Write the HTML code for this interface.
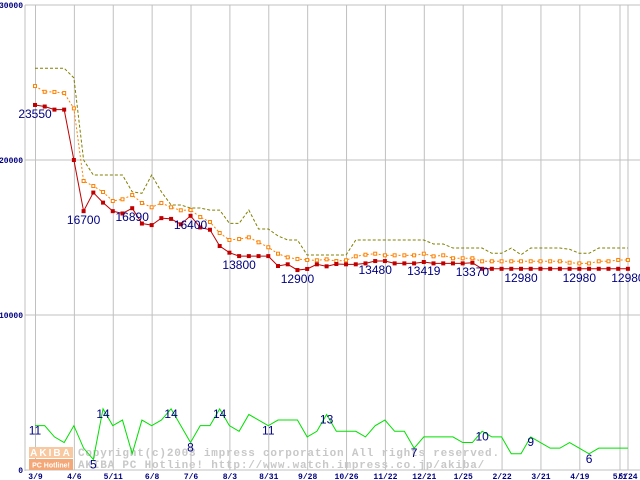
<!DOCTYPE html>
<html><head><meta charset="utf-8"><style>
html,body{margin:0;padding:0;background:#fff;}
svg{display:block;font-family:"Liberation Sans",sans-serif;}
</style></head><body>
<svg id="chart" width="640" height="480" viewBox="0 0 640 480">
<g id="grid"></g>
<g id="wm">
 <rect x="29" y="447" width="44" height="11" fill="#f8c8a0"/>
 <text x="51" y="456" font-size="10" font-weight="bold" fill="#fff" text-anchor="middle" letter-spacing="2">AKIBA</text>
 <rect x="29" y="459" width="44" height="11" fill="#f4a878"/>
 <text x="51" y="467.5" font-size="7" font-weight="bold" fill="#fff" text-anchor="middle">PC Hotline!</text>
 <text x="78" y="456" font-size="11" font-family="Liberation Mono, monospace" font-weight="bold" fill="#c8c8c8" letter-spacing="0.8">Copyright(c)2003 impress corporation All rights reserved.</text>
 <text x="78" y="468" font-size="11" font-family="Liberation Mono, monospace" font-weight="bold" fill="#c8c8c8" letter-spacing="0.8">AKIBA PC Hotline!  http://www.watch.impress.co.jp/akiba/</text>
</g>
<g id="series"></g>
<g id="labels"></g>
</svg>
<script>
const xTickLabels=["3/9","4/6","5/11","6/8","7/6","8/3","8/31","9/28","10/26","11/22","12/21","1/25","2/22","3/21","4/19","5/1","5/24"];
const yTickValues=[0,10000,20000,30000];
const minPrice=[23550,23450,23250,23250,20000,16700,17900,17250,16700,16550,16890,15900,15800,16250,16200,15850,16400,15650,15500,14450,14020,13800,13800,13800,13800,13160,13270,12900,12970,13270,13140,13290,13270,13270,13330,13480,13480,13330,13330,13330,13419,13330,13330,13330,13330,13370,12980,12980,12980,12980,12980,12980,12980,12980,12980,12980,12980,12980,12980,12980,12980,12980];
const avgPrice=[24770,24400,24390,24320,23330,18645,18320,17935,17355,17465,17740,17225,16950,17225,16950,16755,16775,16320,16000,15290,14840,14900,15010,14690,14370,13955,13720,13610,13550,13530,13590,13480,13530,13785,13890,13955,13850,13850,13850,13850,13955,13785,13850,13660,13660,13660,13465,13465,13465,13465,13465,13465,13465,13465,13465,13375,13330,13330,13465,13465,13550,13550];
const maxPrice=[25920,25920,25920,25920,25300,20000,19030,19030,19030,19030,17950,17850,19030,17950,17100,17100,16900,16900,16770,16770,15915,15915,16770,15550,15550,15100,14840,14840,13870,13870,13870,13870,13870,14840,14840,14840,14840,14840,14840,14840,14840,14580,14580,14320,14320,14320,14320,13980,13980,14320,13890,14320,14320,14320,14320,14240,13980,13980,14320,14320,14320,14320];
const shopCount=[11,11,9,8,11,7,5,14,11,12,6,12,11,12,14,11,8,11,11,14,11,10,13,12,11,12,12,12,9,10,13,10,10,10,9,11,12,10,10,7,9,9,9,9,8,8,10,9,9,6,6,9,8,7,7,8,7,6,7,7,7,7];
const priceLabelIdx=[0,5,10,16,21,27,35,40,45,50,56,61];
const countLabelIdx=[0,6,7,14,16,19,24,30,39,46,51,57];

const NS="http://www.w3.org/2000/svg";
const X0=35, DX=9.72;
function xAt(i){return X0+i*DX;}
function yP(v){return 470-v*0.0155;}
function yC(n){return 487.5-n*5.62;}
function mk(tag,attrs,parent){const e=document.createElementNS(NS,tag);for(const k in attrs)e.setAttribute(k,attrs[k]);parent.appendChild(e);return e;}
const grid=document.getElementById('grid'), ser=document.getElementById('series'), lab=document.getElementById('labels');

yTickValues.forEach(v=>{
 const y=yP(v);
 const l=mk('line',{x1:25,x2:640,y1:y,y2:y,stroke:'#c0c0c0','stroke-width':1},grid);
 
 
 const t=mk('text',{x:23,y:y+3,'font-size':8,'font-weight':'bold',fill:'#000080','text-anchor':'end','font-family':'Liberation Mono, monospace'},grid);
 t.textContent=String(v);
 
 
});
mk('line',{x1:25,x2:25,y1:5,y2:471,stroke:'#c0c0c0','stroke-width':1},grid);
xTickLabels.forEach((s,k)=>{
 const x=xAt(k*4)+0.5;
 const gx=k<15?x:(k==15?620:628);
 const l=mk('line',{x1:gx,x2:gx,y1:5,y2:470,stroke:'#c0c0c0','stroke-width':1},grid);
 
 
 const t=mk('text',{x:gx,y:479,'font-size':8,'font-weight':'bold',fill:'#000080','text-anchor':'middle','font-family':'Liberation Mono, monospace'},grid);
 t.textContent=s;
 
 
});

function line(arr,yf,color,dash,name){
 const p=mk('polyline',{points:arr.map((v,i)=>xAt(i)+','+yf(v)).join(' '),fill:'none',stroke:color,'stroke-width':1},ser);
 if(dash)p.setAttribute('stroke-dasharray',dash);
 
 
}
line(maxPrice,yP,'#808000','3,2','max-price-line');
line(avgPrice,yP,'#ff8000','2,2','avg-price-line');
avgPrice.forEach((v,i)=>{
 const r=mk('rect',{x:xAt(i)-1.5,y:yP(v)-1.5,width:3,height:3,fill:'#fff',stroke:'#ff8000','stroke-width':1},ser);
 
 
});
line(minPrice,yP,'#c00000',null,'min-price-line');
minPrice.forEach((v,i)=>{
 const r=mk('rect',{x:xAt(i)-2,y:yP(v)-2,width:4,height:4,fill:'#c00000'},ser);
 
 
});
line(shopCount,yC,'#00e000',null,'shop-count-line');

priceLabelIdx.forEach(i=>{
 const t=mk('text',{x:xAt(i),y:yP(minPrice[i])+13,'font-size':12,fill:'#000080','text-anchor':'middle'},lab);
 t.textContent=String(minPrice[i]);
 
 
});
countLabelIdx.forEach(i=>{
 const t=mk('text',{x:xAt(i),y:yC(shopCount[i])+9,'font-size':12,fill:'#000080','text-anchor':'middle'},lab);
 t.textContent=String(shopCount[i]);
 
 
});
</script>
</body></html>
